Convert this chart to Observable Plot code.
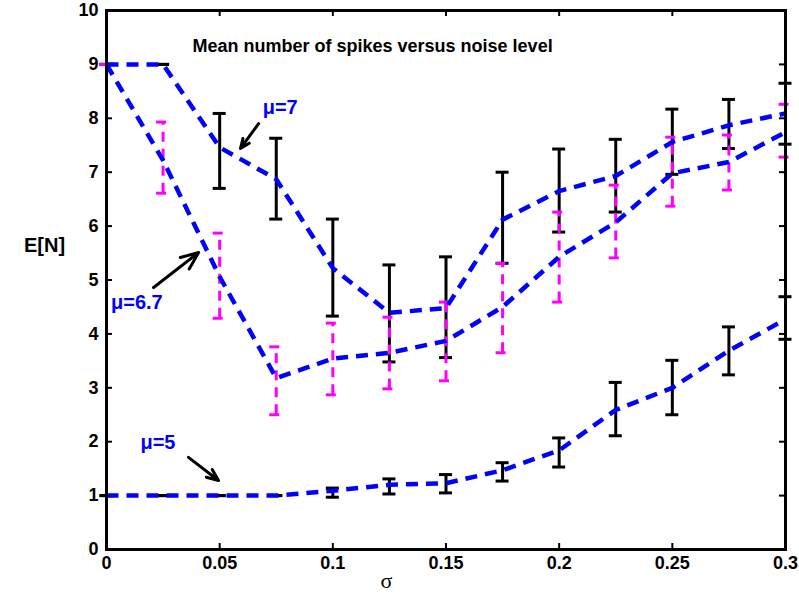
<!DOCTYPE html>
<html><head><meta charset="utf-8">
<script src="https://cdn.jsdelivr.net/npm/d3@7"></script>
<script src="https://cdn.jsdelivr.net/npm/@observablehq/plot@0.6"></script>
<style>body{margin:0;background:#fff}</style>
</head><body><div id="chart"></div>
<script>
// ---- data ----
const sigma = [0, 0.025, 0.05, 0.075, 0.1, 0.125, 0.15, 0.175, 0.2, 0.225, 0.25, 0.275, 0.3];

const mu7Mean = [9, 9, 7.46, 6.87, 5.22, 4.39, 4.48, 6.12, 6.65, 6.93, 7.56, 7.87, 8.09];
const mu7Lo   = [9, 9, 6.70, 6.13, 4.33, 3.48, 3.56, 5.31, 5.89, 6.26, 6.96, 7.44, 7.52];
const mu7Hi   = [9, 9, 8.09, 7.63, 6.13, 5.28, 5.43, 7.00, 7.43, 7.61, 8.17, 8.35, 8.65];

const mu67Mean = [9, 7.22, 5.06, 3.18, 3.54, 3.65, 3.87, 4.50, 5.43, 6.07, 6.98, 7.19, 7.74];
const mu67Lo   = [9, 6.61, 4.29, 2.50, 2.87, 2.98, 3.13, 3.65, 4.59, 5.41, 6.37, 6.67, 7.28];
const mu67Hi   = [9, 7.93, 5.87, 3.76, 4.20, 4.31, 4.59, 5.31, 6.26, 6.76, 7.65, 7.69, 8.26];

const mu5Mean = [1, 1, 1, 1, 1.09, 1.20, 1.23, 1.47, 1.84, 2.59, 3.00, 3.69, 4.27];
const mu5Lo   = [1, 1, 1, 1, 0.97, 1.03, 1.05, 1.27, 1.53, 2.11, 2.50, 3.24, 3.90];
const mu5Hi   = [1, 1, 1, 1, 1.14, 1.31, 1.39, 1.61, 2.07, 3.10, 3.51, 4.13, 4.69];

const xTicks = [0, 0.05, 0.1, 0.15, 0.2, 0.25, 0.3];
const xTickLabels = ["0", "0.05", "0.1", "0.15", "0.2", "0.25", "0.3"];
const yTicks = [0, 1, 2, 3, 4, 5, 6, 7, 8, 9, 10];
const yTickLabels = ["0", "1", "2", "3", "4", "5", "6", "7", "8", "9", "10"];

const titleText = "Mean number of spikes versus noise level";
const xLabel = "σ";
const yLabel = "E[N]";

const labels = [
  {x: 0.0690, y: 8.20, text: "μ=7"},
  {x: 0.0020, y: 4.58, text: "μ=6.7"},
  {x: 0.0150, y: 1.99, text: "μ=5"}
];
const arrows = [
  {x1: 0.0672, y1: 7.90, x2: 0.0592, y2: 7.44},
  {x1: 0.0208, y1: 4.86, x2: 0.0407, y2: 5.51},
  {x1: 0.0362, y1: 1.71, x2: 0.0495, y2: 1.28}
];
const titlePos = [{x: 0.038, y: 9.33, text: titleText}];

// ---- layout ----
const W = 799, H = 601, mL = 106, mR = 14, mT = 10, mB = 52;
const iw = W - mL - mR, ih = H - mT - mB;
const tickLen = 6;
const capHalf = 6.5;
const blue = "#0000ff", magenta = "#ff00ff";

const rows = (m, lo, hi) => sigma.map((s, i) => ({s, m: m[i], lo: lo[i], hi: hi[i]}));
const d7 = rows(mu7Mean, mu7Lo, mu7Hi);
const d67 = rows(mu67Mean, mu67Lo, mu67Hi);
const d5 = rows(mu5Mean, mu5Lo, mu5Hi);

function errBars(data, stroke, dash) {
  const o = {stroke, strokeWidth: 3, strokeDasharray: dash};
  return [
    Plot.ruleX(data, {x: "s", y1: "lo", y2: "hi", ...o}),
    Plot.ruleY(data, {y: "lo", x1: "s", x2: "s", insetLeft: -capHalf, insetRight: -capHalf, ...o}),
    Plot.ruleY(data, {y: "hi", x1: "s", x2: "s", insetLeft: -capHalf, insetRight: -capHalf, ...o})
  ];
}
const lineOpts = {x: "s", y: "m", stroke: blue, strokeWidth: 4.5, strokeDasharray: "12,8", strokeLinecap: "butt", strokeLinejoin: "miter"};

const chart = Plot.plot({
  width: W, height: H,
  marginLeft: mL, marginRight: mR, marginTop: mT, marginBottom: mB,
  style: {fontFamily: "'Liberation Sans', Arial, sans-serif", background: "#fff", color: "#000"},
  x: {domain: [0, 0.3]},
  y: {domain: [0, 10]},
  marks: [
    Plot.axisX(xTicks, {tickSize: 0, tickPadding: 7, fontSize: 18, fontWeight: "bold", label: null,
      tickFormat: (d) => xTickLabels[xTicks.indexOf(d)]}),
    Plot.axisY(yTicks, {tickSize: 0, tickPadding: 8, fontSize: 18, fontWeight: "bold", label: null,
      tickFormat: (d) => yTickLabels[yTicks.indexOf(d)]}),
    Plot.tickX(xTicks, {x: (d) => d, insetTop: ih - tickLen, strokeWidth: 2}),
    Plot.tickX(xTicks, {x: (d) => d, insetBottom: ih - tickLen, strokeWidth: 2}),
    Plot.tickY(yTicks, {y: (d) => d, insetRight: iw - tickLen, strokeWidth: 2}),
    Plot.tickY(yTicks, {y: (d) => d, insetLeft: iw - tickLen, strokeWidth: 2}),
    ...errBars(d7, "black", null),
    ...errBars(d5, "black", null),
    ...errBars(d67, magenta, "10,7"),
    Plot.line(d7, lineOpts),
    Plot.line(d67, lineOpts),
    Plot.line(d5, lineOpts),
    Plot.arrow(arrows, {x1: "x1", y1: "y1", x2: "x2", y2: "y2", stroke: "black", strokeWidth: 3, headLength: 11, headAngle: 45}),
    Plot.text(labels, {x: "x", y: "y", text: "text", textAnchor: "start", fill: blue, fontSize: 20, fontWeight: "bold"}),
    Plot.text(titlePos, {x: "x", y: "y", text: "text", textAnchor: "start", fill: "black", fontSize: 18, fontWeight: "bold"}),
    Plot.text([xLabel], {x: 0.1237, frameAnchor: "bottom", dy: 38, text: (d) => d, fontSize: 22, fontFamily: "'Liberation Serif', serif", fill: "black"}),
    Plot.text([yLabel], {y: 5.64, frameAnchor: "left", textAnchor: "middle", dx: -62, text: (d) => d, fontSize: 20, fontWeight: "bold", fill: "black"}),
    Plot.frame({stroke: "black", strokeWidth: 3})
  ]
});
document.getElementById("chart").appendChild(chart);
</script>
</body></html>
